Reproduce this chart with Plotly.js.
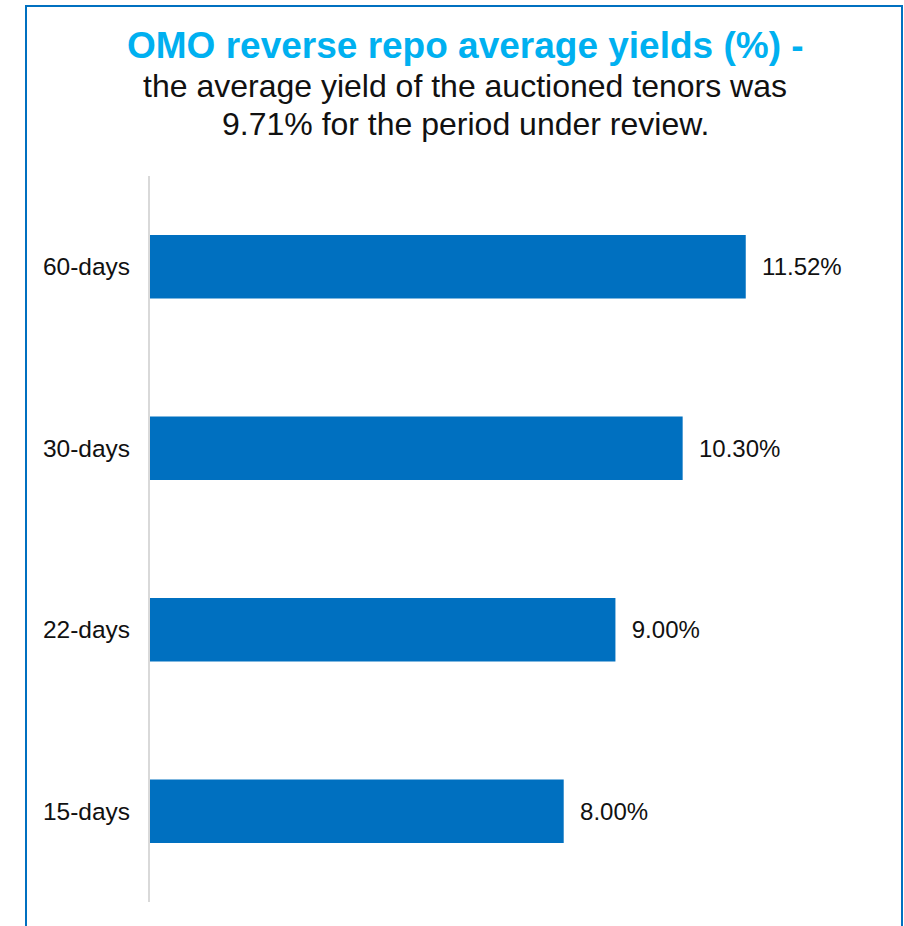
<!DOCTYPE html>
<html>
<head>
<meta charset="utf-8">
<script src="https://cdn.plot.ly/plotly-3.0.1.min.js"></script>
<style>html,body{margin:0;padding:0;background:#fff;}#chart{width:904px;height:926px;}</style>
</head>
<body>
<div id="chart"></div>
<script>
const categories = ['15-days', '22-days', '30-days', '60-days'];
const yields = [8.00, 9.00, 10.30, 11.52];
const titleText = 'OMO reverse repo average yields (%) -';
const subtitleLines = ['the average yield of the auctioned tenors was', '9.71% for the period under review.'];

const FONT = 'Liberation Sans, Arial, sans-serif';
const L = 150, R = 30, T = 176, B = 24, W = 904, H = 926;
const pw = W - L - R, ph = H - T - B;
const px2x = p => (p - L) / pw;
const py2y = p => (H - B - p) / ph;

const trace = {
  type: 'bar',
  orientation: 'h',
  x: yields,
  y: categories,
  width: 0.35,
  marker: {color: '#0070C0'},
  texttemplate: '\u00a0\u00a0%{x:.2f}%',
  textposition: 'outside',
  textfont: {family: FONT, size: 24, color: '#111111'},
  cliponaxis: false,
  hoverinfo: 'skip'
};

const annotations = [{
  text: '<b>' + titleText + '</b>',
  xref: 'paper', yref: 'paper',
  x: px2x(465), xanchor: 'center',
  y: py2y(23), yanchor: 'top',
  showarrow: false,
  font: {family: FONT, size: 37, color: '#00B0F0'}
}];
const subTops = [66, 104];
subtitleLines.forEach((s, i) => annotations.push({
  text: s,
  xref: 'paper', yref: 'paper',
  x: px2x(465), xanchor: 'center',
  y: py2y(subTops[i]), yanchor: 'top',
  showarrow: false,
  font: {family: FONT, size: 32, color: '#111111'}
}));

const layout = {
  width: W,
  height: H,
  margin: {l: L, r: R, t: T, b: B},
  paper_bgcolor: '#ffffff',
  plot_bgcolor: '#ffffff',
  showlegend: false,
  font: {family: FONT, color: '#111111'},
  annotations: annotations,
  xaxis: {
    range: [0, 14],
    showgrid: false, zeroline: false, showline: false,
    showticklabels: false, ticks: '', fixedrange: true
  },
  yaxis: {
    type: 'category',
    categoryorder: 'array',
    categoryarray: categories,
    showgrid: false, zeroline: false,
    showline: true, linecolor: '#d9d9d9', linewidth: 2,
    ticks: '', ticklabelstandoff: 13,
    tickfont: {family: FONT, size: 24.5, color: '#111111'},
    fixedrange: true
  },
  shapes: [{
    type: 'rect', xref: 'paper', yref: 'paper',
    x0: px2x(26), x1: px2x(902),
    y0: py2y(940), y1: py2y(6),
    line: {color: '#0070C0', width: 2},
    fillcolor: 'rgba(0,0,0,0)'
  }]
};

Plotly.newPlot('chart', [trace], layout, {displayModeBar: false, staticPlot: true});
</script>
</body>
</html>
